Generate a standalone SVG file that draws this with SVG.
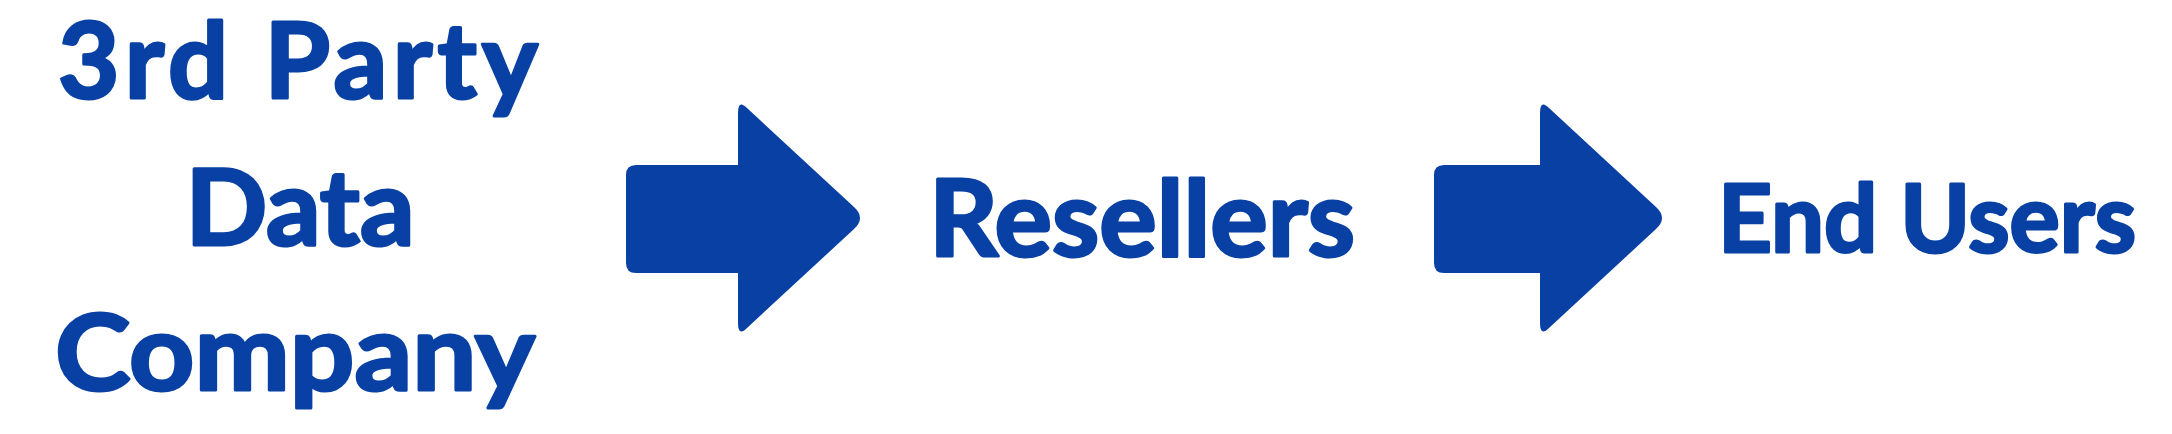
<svg xmlns="http://www.w3.org/2000/svg" width="2172" height="434" viewBox="0 0 2172 434">
<style>
.t{font-family:"Lato","Liberation Sans",sans-serif;font-weight:bold;fill:#0840A4;stroke:#0840A4;stroke-width:3;stroke-linejoin:round;text-anchor:middle}
.big{font-size:106px}
.mid{font-size:94px}
.arr{fill:#0840A4}
</style>
<rect width="2172" height="434" fill="#ffffff"/>
<g id="source">
<text class="t big" x="298" y="98" textLength="480" lengthAdjust="spacing">3rd Party</text>
<text class="t big" x="300" y="245" textLength="229" lengthAdjust="spacingAndGlyphs">Data</text>
<text class="t big" x="295" y="390" textLength="480" lengthAdjust="spacingAndGlyphs">Company</text>
</g>
<g id="connectors">
<path class="arr" d="M636,165 L738,165 L738,113 Q738,99 747,108 L854,207 Q866,218 854,229 L747,328 Q738,337 738,323 L738,273 L636,273 Q626,273 626,263 L626,175 Q626,165 636,165 Z"/>
<path class="arr" d="M1444,165 L1540,165 L1540,113 Q1540,99 1549,108 L1656,207 Q1668,218 1656,229 L1549,328 Q1540,337 1540,323 L1540,273 L1444,273 Q1434,273 1434,263 L1434,175 Q1434,165 1444,165 Z"/>
</g>
<g id="resellers">
<text class="t big" x="1142" y="256" textLength="426" lengthAdjust="spacingAndGlyphs">Resellers</text>
</g>
<g id="endusers">
<text class="t mid" x="1927" y="252" textLength="418" lengthAdjust="spacingAndGlyphs">End Users</text>
</g>
</svg>
